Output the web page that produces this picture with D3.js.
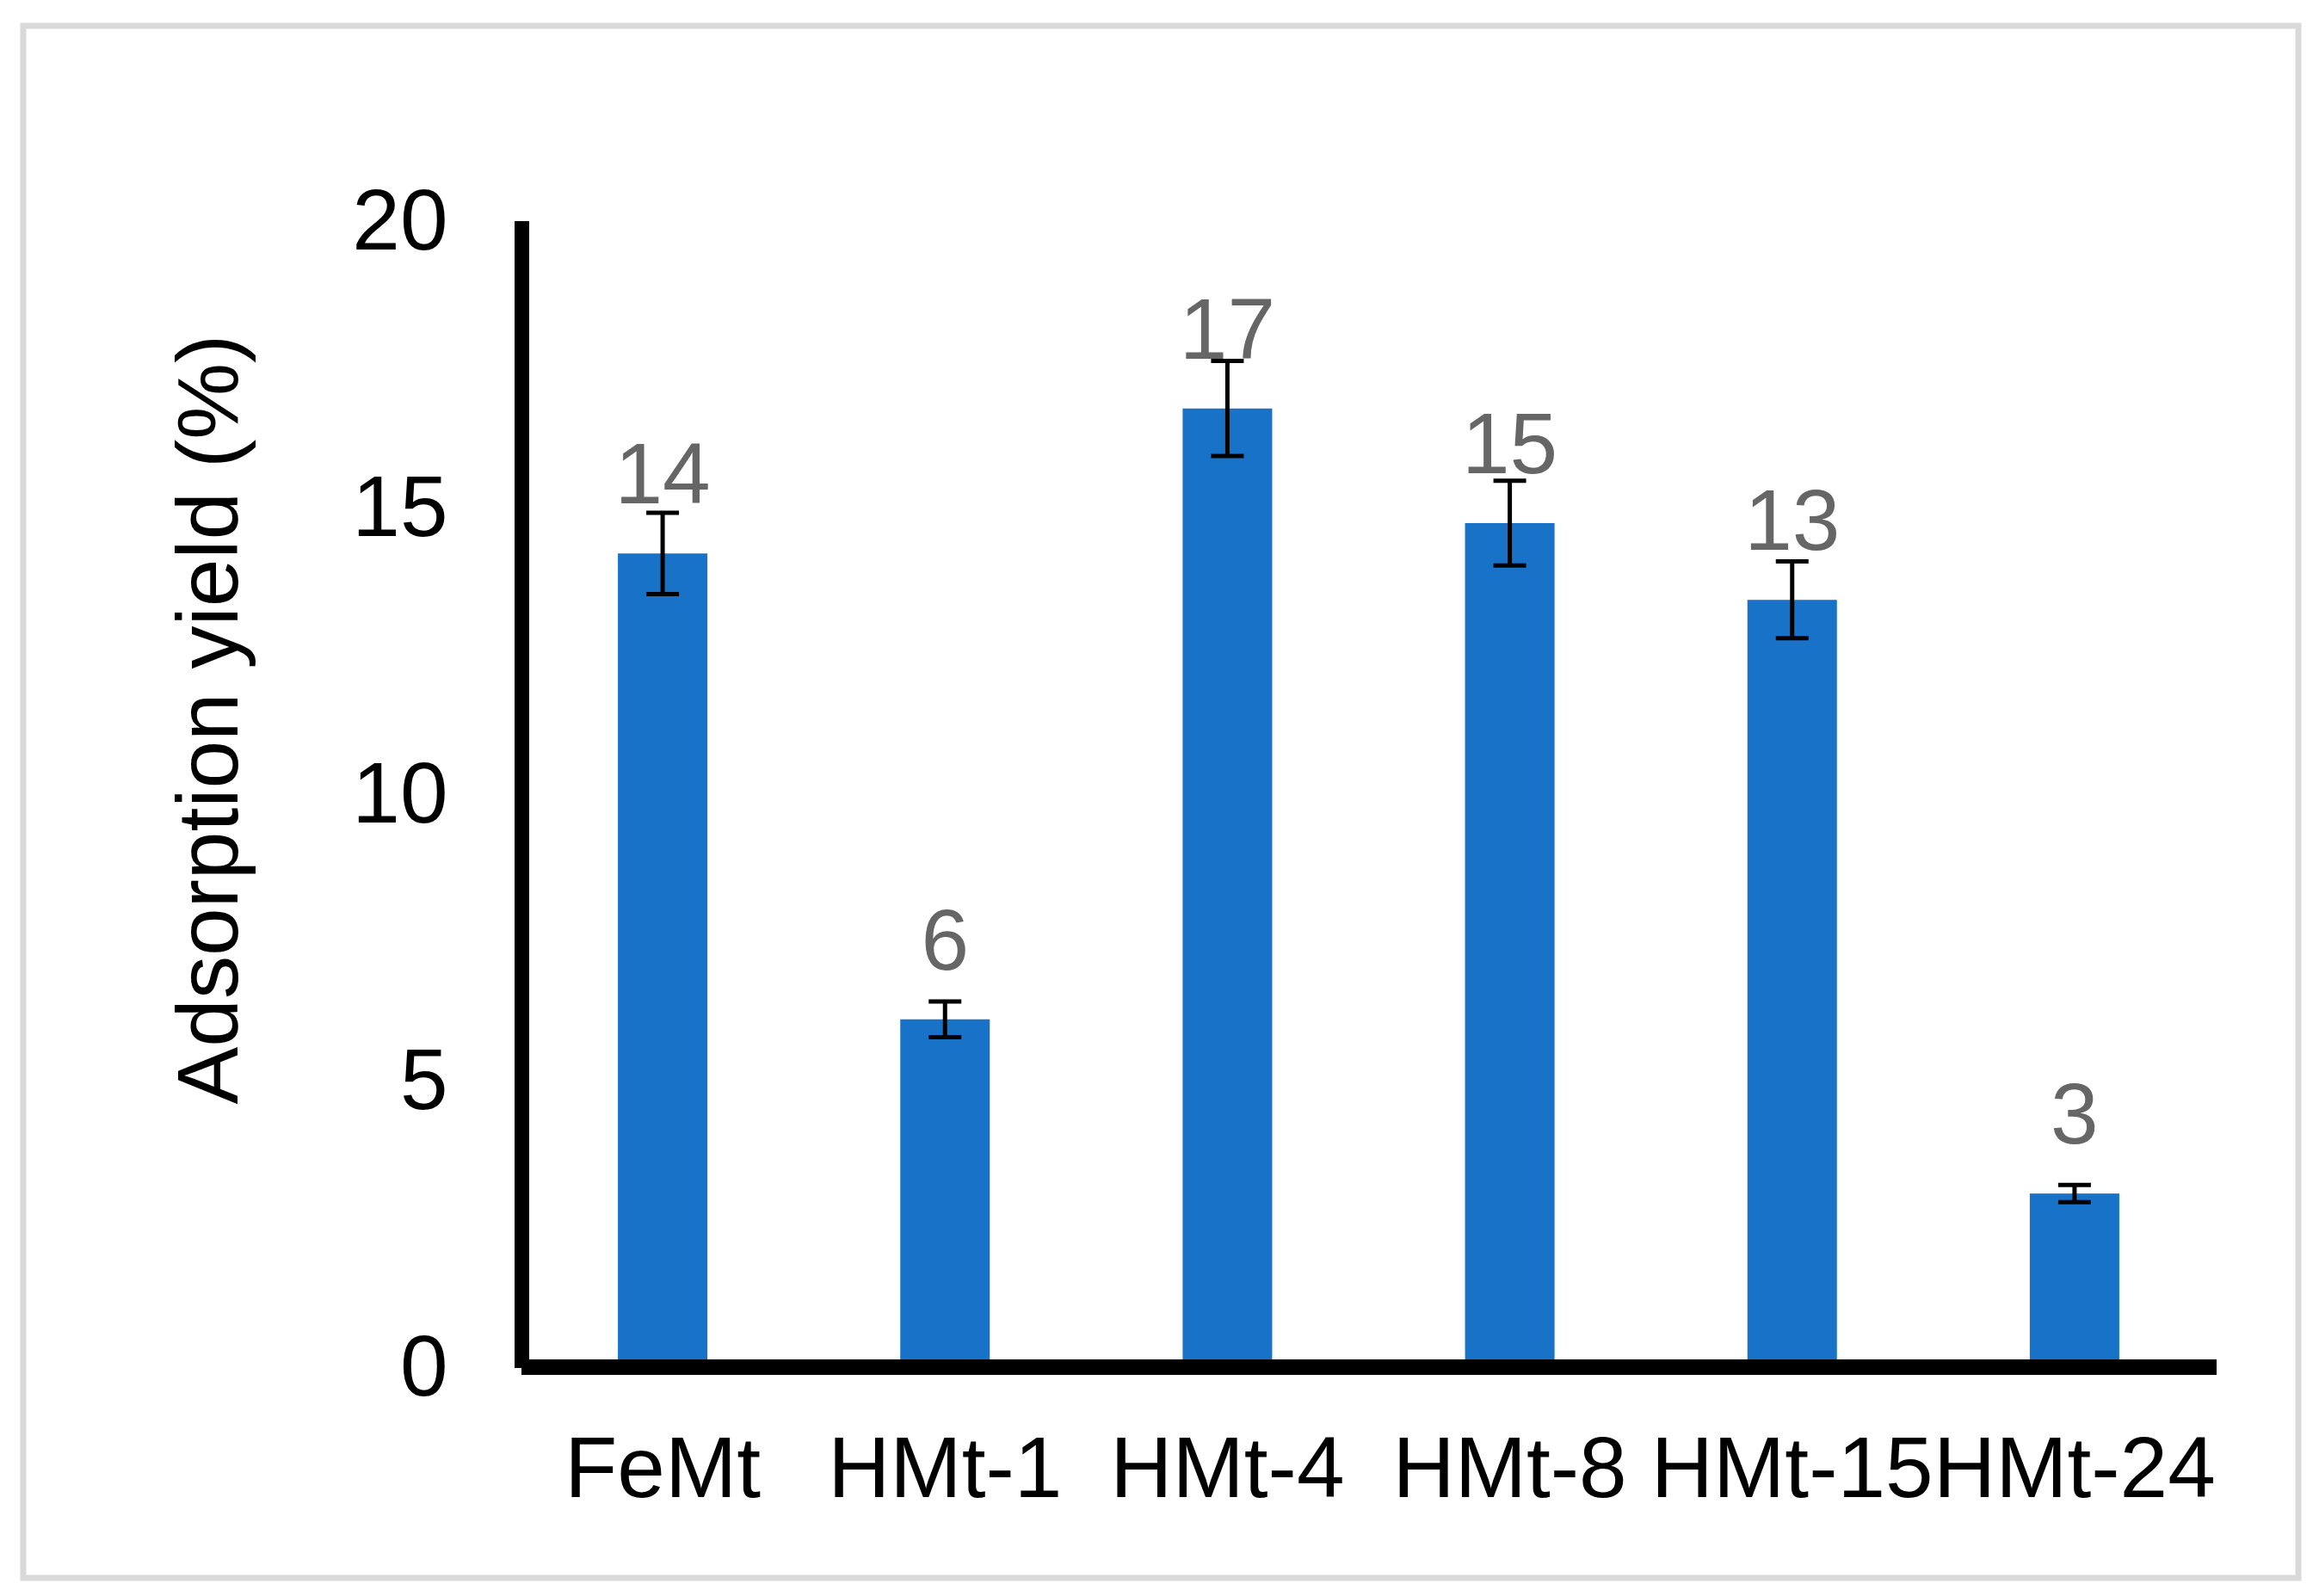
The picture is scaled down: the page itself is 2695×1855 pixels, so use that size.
<!DOCTYPE html>
<html>
<head>
<meta charset="utf-8">
<script src="https://cdn.jsdelivr.net/npm/d3@7"></script>
<style>
  body { margin: 0; background: #fff; }
  text { font-family: "Liberation Sans", Arial, sans-serif; }
</style>
</head>
<body>
<svg width="2695" height="1855"></svg>
<script>
// data
var categories = ["FeMt", "HMt-1", "HMt-4", "HMt-8", "HMt-15", "HMt-24"];
var yields = [14.14, 6.01, 16.67, 14.67, 13.33, 2.97];
var errors = [0.71, 0.31, 0.83, 0.74, 0.67, 0.15];
var yTicks = [0, 5, 10, 15, 20];

var svg = d3.select("svg");

var data = categories.map(function(c, i) {
  return {name: c, value: yields[i], err: errors[i]};
});

var x = d3.scaleBand()
  .domain(categories)
  .range([606, 2575])
  .paddingInner(0.683)
  .paddingOuter(0.3415);

var y = d3.scaleLinear()
  .domain([0, 20])
  .range([1585, 253]);

// outer frame
svg.append("rect")
  .attr("x", 27)
  .attr("y", 30)
  .attr("width", 2644)
  .attr("height", 1804)
  .attr("fill", "none")
  .attr("stroke", "#d9d9d9")
  .attr("stroke-width", 7);

// bars
svg.selectAll(".bar")
  .data(data)
  .enter().append("rect")
    .attr("class", "bar")
    .attr("x", function(d) { return x(d.name); })
    .attr("y", function(d) { return y(d.value); })
    .attr("width", x.bandwidth())
    .attr("height", function(d) { return y(0) - y(d.value); })
    .attr("fill", "#1873c8");

// error bars
var eb = svg.selectAll(".err")
  .data(data)
  .enter().append("g")
    .attr("class", "err")
    .attr("stroke", "#000")
    .attr("stroke-width", 5);

eb.append("line")
  .attr("x1", function(d) { return x(d.name) + x.bandwidth() / 2; })
  .attr("x2", function(d) { return x(d.name) + x.bandwidth() / 2; })
  .attr("y1", function(d) { return y(d.value + d.err); })
  .attr("y2", function(d) { return y(d.value - d.err); });

eb.append("line")
  .attr("x1", function(d) { return x(d.name) + x.bandwidth() / 2 - 19; })
  .attr("x2", function(d) { return x(d.name) + x.bandwidth() / 2 + 19; })
  .attr("y1", function(d) { return y(d.value + d.err); })
  .attr("y2", function(d) { return y(d.value + d.err); });

eb.append("line")
  .attr("x1", function(d) { return x(d.name) + x.bandwidth() / 2 - 19; })
  .attr("x2", function(d) { return x(d.name) + x.bandwidth() / 2 + 19; })
  .attr("y1", function(d) { return y(d.value - d.err); })
  .attr("y2", function(d) { return y(d.value - d.err); });

// value labels
svg.selectAll(".label")
  .data(data)
  .enter().append("text")
    .attr("class", "label")
    .attr("x", function(d) { return x(d.name) + x.bandwidth() / 2; })
    .attr("y", function(d) { return y(d.value) - 58; })
    .attr("text-anchor", "middle")
    .attr("font-size", 100)
    .attr("fill", "#666666")
    .text(function(d) { return d3.format(".0f")(d.value); });

// y axis
var yAxis = svg.append("g")
  .attr("transform", "translate(606.5,0)")
  .call(d3.axisLeft(y).tickValues(yTicks).tickSize(0).tickPadding(86));

yAxis.select(".domain")
  .attr("d", "M0," + (y(20) + 4) + "V" + (y(0) + 5))
  .attr("stroke", "#000")
  .attr("stroke-width", 17);

yAxis.selectAll(".tick text")
  .attr("font-size", 100)
  .attr("font-family", "Liberation Sans, Arial, sans-serif")
  .attr("fill", "#000")
  .attr("dy", "0.36em");

// x axis
var xAxis = svg.append("g")
  .attr("transform", "translate(0," + (y(0) + 4) + ")")
  .call(d3.axisBottom(x).tickSize(0).tickPadding(0));

xAxis.select(".domain")
  .attr("d", "M606,0H2576")
  .attr("stroke", "#000")
  .attr("stroke-width", 18);

xAxis.selectAll(".tick text")
  .attr("font-size", 100)
  .attr("font-family", "Liberation Sans, Arial, sans-serif")
  .attr("fill", "#000")
  .attr("dy", null)
  .attr("y", 151);

// y axis title
svg.append("text")
  .attr("transform", "translate(276,836) rotate(-90)")
  .attr("text-anchor", "middle")
  .attr("font-size", 100)
  .attr("fill", "#000")
  .text("Adsorption yield (%)");
</script>
</body>
</html>
